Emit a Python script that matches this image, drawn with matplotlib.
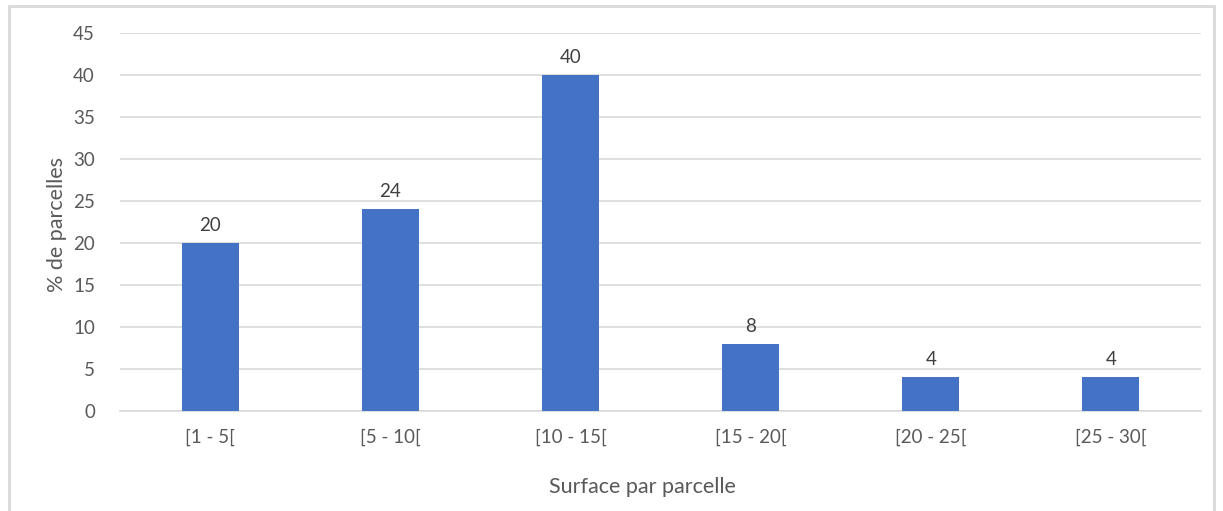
import matplotlib
matplotlib.use("Agg")
import matplotlib.pyplot as plt
from matplotlib.patches import Rectangle

categories = ["[1 - 5[", "[5 - 10[", "[10 - 15[", "[15 - 20[", "[20 - 25[", "[25 - 30["]
values = [20, 24, 40, 8, 4, 4]
y_ticks = [0, 5, 10, 15, 20, 25, 30, 35, 40, 45]

plt.rcParams["font.family"] = ["Lato", "DejaVu Sans"]
text_color = "#595959"

fig = plt.figure(figsize=(12.23, 5.11), dpi=100)
ax = fig.add_axes([120 / 1223, 1 - 411 / 511, 1081 / 1223, 378 / 511])

x = range(len(categories))
bars = ax.bar(x, values, width=0.317, color="#4472C4", zorder=3)
for b, v in zip(bars, values):
    ax.text(b.get_x() + b.get_width() / 2, v + 1.1, str(v), ha="center", va="bottom",
            fontsize=13.5, color="#404040")

ax.set_xlim(-0.5, len(categories) - 0.5)
ax.set_ylim(0, 45)
ax.set_yticks(y_ticks)
ax.set_xticks(list(x))
ax.set_xticklabels(categories)
ax.tick_params(axis="both", length=0, labelsize=13.5, labelcolor=text_color)
ax.tick_params(axis="x", pad=13)
ax.tick_params(axis="y", pad=18)
ax.grid(axis="y", color="#D9D9D9", linewidth=1.2, zorder=0)
for s in ["top", "right", "left"]:
    ax.spines[s].set_visible(False)
ax.spines["bottom"].set_color("#D9D9D9")
ax.spines["bottom"].set_linewidth(1.2)

fig.text(57 / 1223, 1 - 225 / 511, "% de parcelles", rotation=90, ha="center", va="center",
         fontsize=15.5, color=text_color)
fig.text(642 / 1223, 1 - 487 / 511, "Surface par parcelle", ha="center", va="center",
         fontsize=15.5, color=text_color)

fig.patches.append(Rectangle((9 / 1223, -0.05), 1205 / 1223, 1 - 6 / 511 + 0.05,
                             transform=fig.transFigure, fill=False,
                             edgecolor="#D9D9D9", linewidth=2))

fig.savefig("out.png", dpi=100)
